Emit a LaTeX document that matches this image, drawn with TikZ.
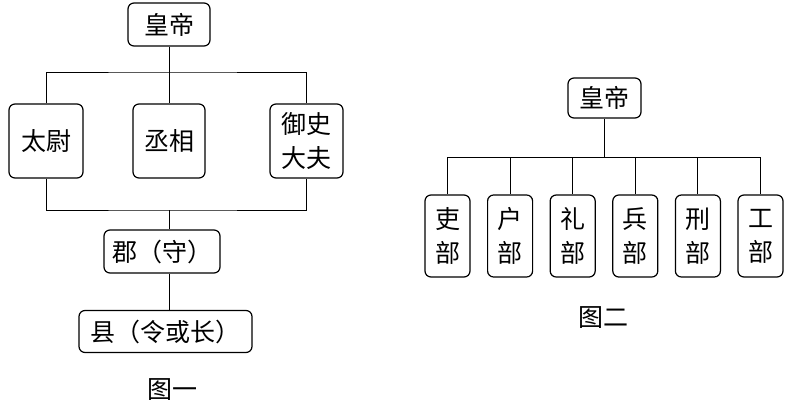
\documentclass[tikz,border=0pt]{standalone}
\usepackage{fontspec}
\setmainfont{Noto Sans CJK SC}
\usetikzlibrary{calc}

\tikzset{
  office/.style={draw, rounded corners=6pt, line width=1.2pt, inner sep=0pt, align=center,
    font=\fontsize{25}{34}\selectfont},
  caption/.style={inner sep=0pt, font=\fontsize{25}{30}\selectfont}
}

\begin{document}
\begin{tikzpicture}[x=1pt,y=-1pt,line width=1pt]
\useasboundingbox (0,0) rectangle (787,405);
\node[office,minimum width=82pt,minimum height=43pt](emp1) at (169,24.5){皇帝};
\node[office,minimum width=74pt,minimum height=74pt](taiwei) at (46,141){太尉};
\node[office,minimum width=72pt,minimum height=74pt](chengxiang) at (169,141){丞相};
\node[office,minimum width=73pt,minimum height=74pt](yushi) at (306.5,141){御史\\大夫};
\node[office,minimum width=116pt,minimum height=43pt](jun) at (162,251.5){郡（守）};
\node[office,minimum width=173pt,minimum height=42pt](xian) at (165.5,331.5){县（令或长）};
\node[caption](fig1) at (172,390){图一};
\coordinate (top1) at (169,72);
\coordinate (bot1) at (169,210);
\draw (emp1.south) -- (chengxiang.north);
\draw (taiwei.north) |- (top1) -| (yushi.north);
\draw (taiwei.south) |- (bot1) -| (yushi.south);
\draw (bot1) -- (bot1 |- jun.north);
\draw (bot1 |- jun.south) -- (bot1 |- xian.north);

\node[office,minimum width=73pt,minimum height=40pt](emp2) at (604.5,98){皇帝};
\coordinate (bus) at (604.5,157);
\draw (emp2.south) -- (bus);
\foreach \name/\dept [count=\i from 0] in {li/吏,hu/户,lii/礼,bing/兵,xing/刑,gong/工}{
  \node[office,minimum width=45pt,minimum height=82pt](\name) at (447.5+62.6*\i,236){\dept\\部};
  \draw (bus -| \name.north) -- (\name.north);
}
\draw (bus -| li.north) -- (bus -| gong.north);
\node[caption](fig2) at (603,318){图二};
\end{tikzpicture}
\end{document}
